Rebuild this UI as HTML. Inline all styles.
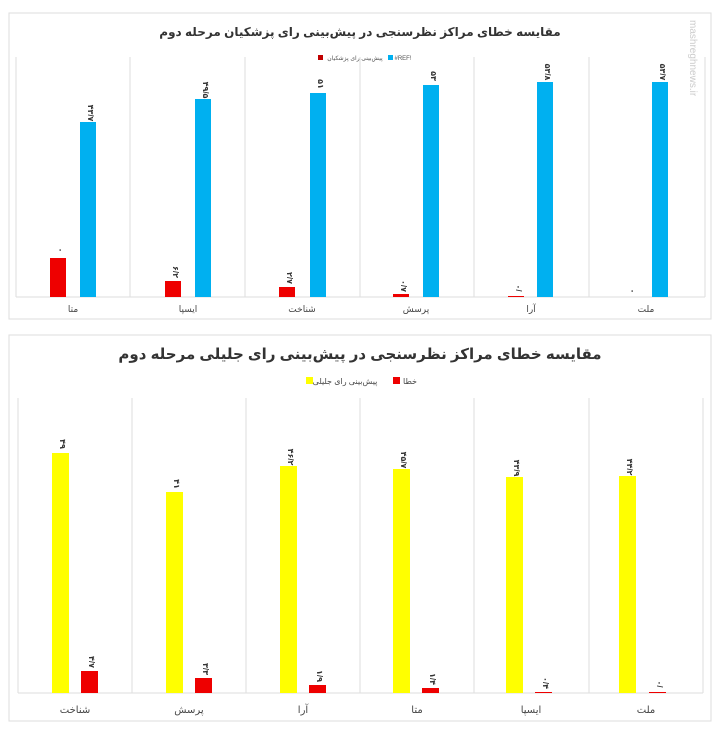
<!DOCTYPE html>
<html><head><meta charset="utf-8"><style>
body{margin:0;background:#fff;}
svg{display:block;font-family:"Liberation Sans","DejaVu Sans",sans-serif;}
</style></head><body>
<svg width="718" height="730" viewBox="0 0 718 730">
<rect x="9" y="13" width="702" height="306" fill="#fff" stroke="#ddd"/>
<text x="360" y="36" text-anchor="middle" font-size="12" font-weight="bold" fill="#333">مقایسه خطای مراکز نظرسنجی در پیش‌بینی رای پزشکیان مرحله دوم</text>
<rect x="318" y="55" width="5" height="5" fill="#c00000"/><text x="355" y="60" font-size="6" text-anchor="middle" fill="#555">پیش‌بینی رای پزشکیان</text>
<rect x="388" y="55" width="5" height="5" fill="#00b0f0"/><text x="403" y="60" font-size="6" text-anchor="middle" fill="#555">#REF!</text>
<g stroke="#ddd"><line x1="16" y1="57" x2="16" y2="297"/><line x1="130" y1="57" x2="130" y2="297"/><line x1="245" y1="57" x2="245" y2="297"/><line x1="360" y1="57" x2="360" y2="297"/><line x1="474" y1="57" x2="474" y2="297"/><line x1="589" y1="57" x2="589" y2="297"/><line x1="705" y1="57" x2="705" y2="297"/><line x1="16" y1="297" x2="705" y2="297"/></g>
<g fill="#00b0f0"><rect x="80" y="122" width="16" height="175"/><rect x="195" y="99" width="16" height="198"/><rect x="310" y="93" width="16" height="204"/><rect x="423" y="85" width="16" height="212"/><rect x="537" y="82" width="16" height="215"/><rect x="652" y="82" width="16" height="215"/></g>
<g fill="#ee0000"><rect x="50" y="258" width="16" height="39"/><rect x="165" y="281" width="16" height="16"/><rect x="279" y="287" width="16" height="10"/><rect x="393" y="294" width="16" height="3"/><rect x="508" y="296" width="16" height="1"/></g>
<g font-size="8" font-weight="bold" fill="#333" text-anchor="middle">
<text transform="translate(88,113) rotate(90)">۴۳/۷</text><text transform="translate(203,90) rotate(90)">۴۹/۵</text><text transform="translate(318,84) rotate(90)">۵۱</text><text transform="translate(431,76) rotate(90)">۵۳</text><text transform="translate(545,72) rotate(90)">۵۳/۸</text><text transform="translate(660,72) rotate(90)">۵۳/۷</text>
<text transform="translate(58,250) rotate(90)">۰</text><text transform="translate(173,272) rotate(90)">۶/۲</text><text transform="translate(287,278) rotate(90)">۲/۷</text><text transform="translate(401,286) rotate(90)">۰/۷</text><text transform="translate(516,288) rotate(90)">۰/</text><text transform="translate(630,291) rotate(90)">۰</text>
</g>
<g font-size="9" fill="#444" text-anchor="middle"><text x="73" y="312">متا</text><text x="188" y="312">ایسپا</text><text x="302" y="312">شناخت</text><text x="416" y="312">پرسش</text><text x="531" y="312">آرا</text><text x="646" y="312">ملت</text></g>
<text transform="translate(690,20) rotate(90)" font-size="10" fill="#ccc">mashreghnews.ir</text>

<rect x="9" y="335" width="702" height="386" fill="#fff" stroke="#ddd"/>
<text x="360" y="359" text-anchor="middle" font-size="15" font-weight="bold" fill="#333">مقایسه خطای مراکز نظرسنجی در پیش‌بینی رای جلیلی مرحله دوم</text>
<rect x="306" y="377" width="7" height="7" fill="#ffff00"/><text x="345" y="384" font-size="8" text-anchor="middle" fill="#444">پیش‌بینی رای جلیلی</text>
<rect x="393" y="377" width="7" height="7" fill="#ee0000"/><text x="410" y="384" font-size="8" text-anchor="middle" fill="#444">خطا</text>
<g stroke="#ddd"><line x1="18" y1="398" x2="18" y2="693"/><line x1="132" y1="398" x2="132" y2="693"/><line x1="246" y1="398" x2="246" y2="693"/><line x1="360" y1="398" x2="360" y2="693"/><line x1="474" y1="398" x2="474" y2="693"/><line x1="589" y1="398" x2="589" y2="693"/><line x1="703" y1="398" x2="703" y2="693"/><line x1="18" y1="693" x2="703" y2="693"/></g>
<g fill="#ffff00"><rect x="52" y="453" width="17" height="240"/><rect x="166" y="492" width="17" height="201"/><rect x="280" y="466" width="17" height="227"/><rect x="393" y="469" width="17" height="224"/><rect x="506" y="477" width="17" height="216"/><rect x="619" y="476" width="17" height="217"/></g>
<g fill="#ee0000"><rect x="81" y="671" width="17" height="22"/><rect x="195" y="678" width="17" height="15"/><rect x="309" y="685" width="17" height="8"/><rect x="422" y="688" width="17" height="5"/><rect x="535" y="692" width="17" height="1"/><rect x="649" y="692" width="17" height="1"/></g>
<g font-size="8" font-weight="bold" fill="#333" text-anchor="middle">
<text transform="translate(60,444) rotate(90)">۴۹</text><text transform="translate(174,484) rotate(90)">۴۱</text><text transform="translate(288,457) rotate(90)">۴۶/۲</text><text transform="translate(401,460) rotate(90)">۴۵/۷</text><text transform="translate(514,468) rotate(90)">۴۳/۹</text><text transform="translate(627,467) rotate(90)">۴۴/۲</text>
<text transform="translate(89,662) rotate(90)">۴/۷</text><text transform="translate(203,669) rotate(90)">۳/۳</text><text transform="translate(317,676) rotate(90)">۱/۹</text><text transform="translate(430,679) rotate(90)">۱/۴</text><text transform="translate(543,683) rotate(90)">۰/۴</text><text transform="translate(657,684) rotate(90)">۰/</text>
</g>
<g font-size="10" fill="#444" text-anchor="middle"><text x="75" y="713">شناخت</text><text x="189" y="713">پرسش</text><text x="303" y="713">آرا</text><text x="417" y="713">متا</text><text x="531" y="713">ایسپا</text><text x="646" y="713">ملت</text></g>
</svg>
</body></html>
